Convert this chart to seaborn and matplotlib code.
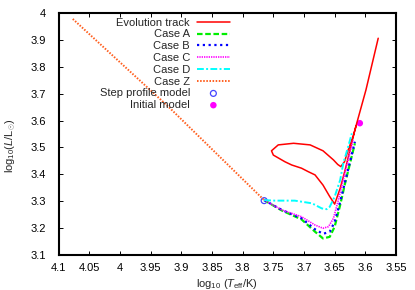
import matplotlib
matplotlib.use("Agg")
import matplotlib.pyplot as plt
import seaborn as sns
from matplotlib.ticker import FuncFormatter, MultipleLocator

# values
track_logT = [3.579, 3.599, 3.617, 3.625, 3.633, 3.641, 3.650, 3.658, 3.669, 3.682,
              3.693, 3.704, 3.720, 3.731, 3.750, 3.753, 3.742, 3.717, 3.690, 3.669,
              3.652, 3.645, 3.640, 3.634, 3.628, 3.620, 3.615]
track_logL = [3.907, 3.714, 3.565, 3.490, 3.415, 3.347, 3.288, 3.316, 3.359, 3.397,
              3.409, 3.422, 3.434, 3.446, 3.471, 3.487, 3.509, 3.515, 3.509, 3.487,
              3.453, 3.436, 3.428, 3.446, 3.490, 3.540, 3.580]

caseA_logT = [3.765, 3.736, 3.704, 3.682, 3.669, 3.658, 3.650, 3.641, 3.633, 3.625, 3.617]
caseA_logL = [3.303, 3.264, 3.231, 3.185, 3.160, 3.166, 3.204, 3.285, 3.366, 3.440, 3.515]

caseB_logT = [3.765, 3.736, 3.704, 3.682, 3.669, 3.658, 3.650, 3.641, 3.633, 3.625, 3.617]
caseB_logL = [3.303, 3.266, 3.235, 3.194, 3.177, 3.185, 3.222, 3.297, 3.372, 3.446, 3.521]

caseC_logT = [3.765, 3.736, 3.704, 3.682, 3.669, 3.660, 3.652, 3.644, 3.636, 3.628, 3.620]
caseC_logL = [3.303, 3.266, 3.241, 3.210, 3.198, 3.204, 3.235, 3.303, 3.378, 3.453, 3.527]

caseD_logT = [3.765, 3.747, 3.715, 3.687, 3.671, 3.663, 3.658, 3.650, 3.641, 3.636, 3.628, 3.622]
caseD_logL = [3.303, 3.301, 3.301, 3.291, 3.272, 3.269, 3.278, 3.316, 3.378, 3.440, 3.502, 3.552]

caseZ_logT = [4.077, 3.919, 3.765]
caseZ_logL = [3.979, 3.647, 3.303]

step_logT = [3.765]
step_logL = [3.301]
init_logT = [3.609]
init_logL = [3.590]

sns.set_style("ticks")
plt.rcParams["font.family"] = ["Liberation Sans", "DejaVu Sans"]
plt.rcParams["mathtext.fontset"] = "custom"
plt.rcParams["mathtext.rm"] = "Liberation Sans"
plt.rcParams["mathtext.it"] = "Liberation Sans:italic"
plt.rcParams["font.size"] = 8

fig = plt.figure(figsize=(4.15, 2.9), dpi=100)
ax = fig.add_axes([0.1414, 0.1224, 0.8128, 0.8317])

lw = 1.1
sns.lineplot(x=track_logT, y=track_logL, sort=False, estimator=None, color="#ff0000",
             lw=lw, label="Evolution track", ax=ax)
sns.lineplot(x=caseA_logT, y=caseA_logL, sort=False, estimator=None, color="#00ee00",
             lw=1.6, ls=(0, (2.5, 1.2)), label="Case A", ax=ax)
sns.lineplot(x=caseB_logT, y=caseB_logL, sort=False, estimator=None, color="#0000ff",
             lw=1.6, ls=(0, (1, 1.6)), label="Case B", ax=ax)
sns.lineplot(x=caseC_logT, y=caseC_logL, sort=False, estimator=None, color="#ff00ff",
             lw=1.2, ls=(0, (0.8, 0.6)), label="Case C", ax=ax)
sns.lineplot(x=caseD_logT, y=caseD_logL, sort=False, estimator=None, color="#00ffff",
             lw=1.4, ls=(0, (3.5, 1.2, 1, 1.2)), label="Case D", ax=ax)
sns.lineplot(x=caseZ_logT, y=caseZ_logL, sort=False, estimator=None, color="#ff6020",
             lw=1.4, ls=(0, (0.8, 0.8)), label="Case Z", ax=ax)
sns.scatterplot(x=step_logT, y=step_logL, marker="o", s=18, facecolor="none",
                edgecolor="#4444ff", linewidth=0.9, label="Step profile model", ax=ax)
sns.scatterplot(x=init_logT, y=init_logL, marker="o", s=22, color="#ff00ff",
                edgecolor="none", label="Initial model", ax=ax)

ax.set_xlim(4.1, 3.55)
ax.set_ylim(3.1, 4.0)
ax.xaxis.set_major_locator(MultipleLocator(0.05))
ax.yaxis.set_major_locator(MultipleLocator(0.1))
fmt = FuncFormatter(lambda v, p: "%g" % round(v, 3))
ax.xaxis.set_major_formatter(fmt)
ax.yaxis.set_major_formatter(fmt)
ax.tick_params(direction="in", length=3, width=0.7, top=True, right=True,
               labelsize=8, colors="black")
ax.tick_params(axis="x", pad=6)
ax.tick_params(axis="y", pad=9)
for sp in ax.spines.values():
    sp.set_linewidth(1.5)
    sp.set_color("black")

ax.set_xlabel(r"log$_{10}$ ($T_{\rm eff}$/K)", fontsize=8)
ax.set_ylabel(r"log$_{10}$($L$/L$_{\odot}$)", fontsize=8)
ax.xaxis.set_label_coords(0.5, -0.093)
ax.yaxis.set_label_coords(-0.121, 0.45)

ax.legend(loc="upper right", bbox_to_anchor=(0.508, 0.982), markerfirst=False,
          frameon=False, borderpad=0, borderaxespad=0, handlelength=3.0,
          handletextpad=0.6, labelspacing=0.16, fontsize=8)

fig.savefig("out.png", dpi=100)
